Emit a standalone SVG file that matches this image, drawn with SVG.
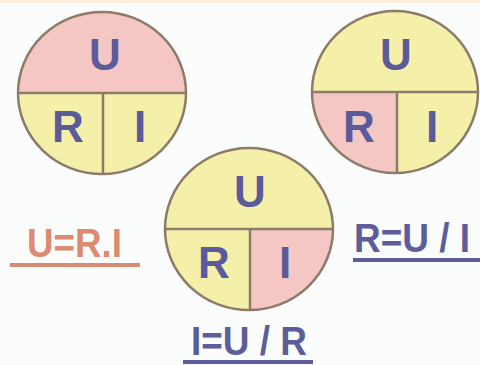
<svg xmlns="http://www.w3.org/2000/svg" width="480" height="365" viewBox="0 0 480 365">
  <style>
    .pink { fill: #f4c6c4; }
    .yel { fill: #f5f0a9; }
    .rim { fill: none; stroke: #8c7b68; stroke-width: 2.5; }
    .div { stroke: #8c7b68; stroke-width: 2.5; fill: none; }
    .let { font-family: "Liberation Sans", Arial, sans-serif; font-weight: bold; font-size: 44px; fill: #5b5a9a; text-anchor: middle; }
    .f { font-family: "Liberation Sans", Arial, sans-serif; font-weight: bold; font-size: 40px; }
    .fo { fill: #dc8a72; }
    .fb { fill: #5e5d9c; }
  </style>
  <rect width="480" height="365" fill="#fbfcfc"/>
  <rect width="480" height="3" fill="#fdeedb"/>

  <g id="circle-u">
    <path class="pink" d="M18,93 A84,81 0 0 1 186,93 Z"/>
    <path class="yel" d="M102,93 L18,93 A84,81 0 0 0 102,174 Z"/>
    <path class="yel" d="M102,93 L186,93 A84,81 0 0 1 102,174 Z"/>
    <ellipse class="rim" cx="102" cy="93" rx="84" ry="81"/>
    <path class="div" d="M18,93 H186 M103,93 V174"/>
    <text class="let" x="105" y="70">U</text>
    <text class="let" x="68" y="142">R</text>
    <text class="let" x="140" y="142">I</text>
  </g>

  <g id="circle-r">
    <path class="yel" d="M312,92 A83,81 0 0 1 478,92 Z"/>
    <path class="pink" d="M396,92 L312,92 A83,81 0 0 0 396,173 Z"/>
    <path class="yel" d="M396,92 L478,92 A83,81 0 0 1 396,173 Z"/>
    <ellipse class="rim" cx="395" cy="92" rx="83" ry="81"/>
    <path class="div" d="M312,92 H478 M397,92 V173"/>
    <text class="let" x="396" y="70">U</text>
    <text class="let" x="359" y="142">R</text>
    <text class="let" x="432" y="142">I</text>
  </g>

  <g id="circle-i">
    <path class="yel" d="M165,229 A84,81 0 0 1 333,229 Z"/>
    <path class="yel" d="M249,229 L165,229 A84,81 0 0 0 249,310 Z"/>
    <path class="pink" d="M249,229 L333,229 A84,81 0 0 1 249,310 Z"/>
    <ellipse class="rim" cx="249" cy="229" rx="84" ry="81"/>
    <path class="div" d="M165,229 H333 M250,229 V310"/>
    <text class="let" x="250" y="207">U</text>
    <text class="let" x="214" y="278">R</text>
    <text class="let" x="285" y="278">I</text>
  </g>

  <g id="formula-u">
    <text class="f fo" x="27" y="257" textLength="95" lengthAdjust="spacingAndGlyphs">U=R.I</text>
    <line x1="10" y1="265" x2="140" y2="265" stroke="#dc8a72" stroke-width="4"/>
  </g>
  <g id="formula-r">
    <text class="f fb" x="354" y="252" font-size="37" textLength="116" lengthAdjust="spacingAndGlyphs">R=U / I</text>
    <line x1="353" y1="260" x2="480" y2="260" stroke="#5e5d9c" stroke-width="4"/>
  </g>
  <g id="formula-i">
    <text class="f fb" x="191" y="355" textLength="116" lengthAdjust="spacingAndGlyphs">I=U / R</text>
    <line x1="183" y1="362" x2="313" y2="362" stroke="#5e5d9c" stroke-width="4"/>
  </g>
</svg>
